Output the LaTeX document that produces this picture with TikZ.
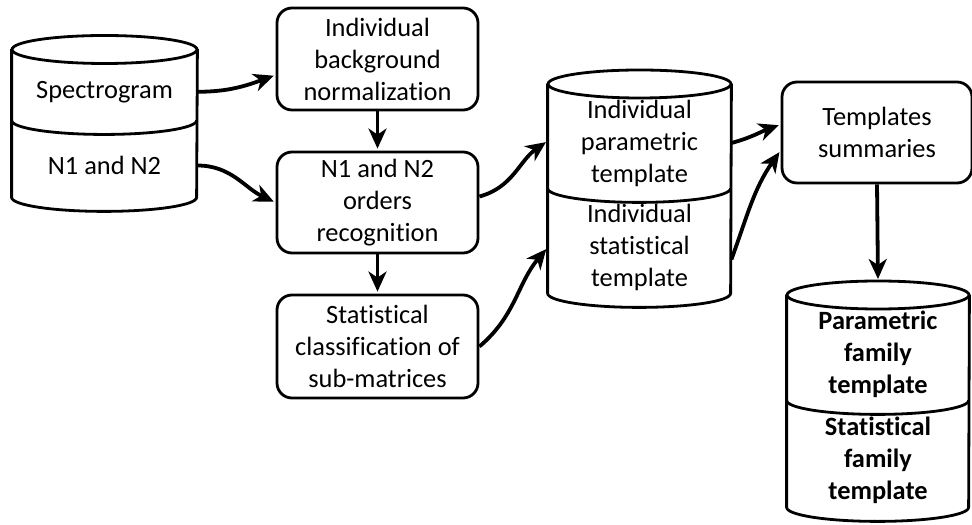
\documentclass[tikz,border=0pt]{standalone}
\usepackage{fontspec}
\setmainfont{Carlito}[Ligatures=NoCommon]
\usetikzlibrary{arrows.meta,calc}

\begin{document}
\begin{tikzpicture}[x=1pt,y=1pt,
  box/.style={draw, line width=1.4pt, rounded corners=7.5pt, minimum width=100.5pt, align=center, inner sep=0pt, font=\fontsize{13.2}{16}\selectfont},
  sect/.style={inner sep=0pt, align=center, font=\fontsize{13.2}{16}\selectfont},
  db/.style={line width=1.4pt},
  flow/.style={line width=1.9pt, -{Stealth[length=10pt,width=9pt,inset=3pt]}, shorten >=1pt}]
\useasboundingbox (0,0) rectangle (486,262);

% processing steps
\node[box, minimum height=51pt] (norm) at (188.75,232.5) {Individual\\background\\normalization};
\node[box, minimum height=50.5pt] (recog) at (188.75,160.75) {N1 and N2\\orders\\recognition};
\node[box, minimum height=51.5pt] (classif) at (188.75,88.75) {Statistical\\classification of\\sub-matrices};
\node[box, minimum width=95pt, minimum height=50.5pt] (summ) at (438.5,195.75) {Templates\\summaries};

% input database
\node[sect, minimum width=92.5pt, minimum height=28.25pt] (spec) at (52.25,216.1) {Spectrogram};
\node[sect, minimum width=92.5pt, minimum height=31.5pt] (orders) at (52.25,179.25) {N1 and N2};
\draw[db] (52.25,237.25) ellipse [x radius=46.25pt, y radius=7pt];
\draw[db] ($(spec.north west)+(0,7)$) -- (orders.south west) arc[start angle=180, end angle=360, x radius=46.25pt, y radius=7pt] -- ($(spec.north east)+(0,7)$);
\draw[db] (spec.south west) arc[start angle=180, end angle=360, x radius=46.25pt, y radius=7pt];

% individual templates
\node[sect, minimum width=91.5pt, minimum height=45pt] (param) at (319.75,190.5) {Individual\\parametric\\template};
\node[sect, minimum width=91.5pt, minimum height=45.5pt] (stat) at (319.75,138.25) {Individual\\statistical\\template};
\draw[db] (319.75,220) ellipse [x radius=45.75pt, y radius=7pt];
\draw[db] ($(param.north west)+(0,7)$) -- (stat.south west) arc[start angle=180, end angle=360, x radius=45.75pt, y radius=7pt] -- ($(param.north east)+(0,7)$);
\draw[db] (param.south west) arc[start angle=180, end angle=360, x radius=45.75pt, y radius=7pt];

% family templates
\node[sect, minimum width=91pt, minimum height=45.5pt, font=\fontsize{13.2}{16}\selectfont\bfseries] (pfam) at (439,84.75) {Parametric\\family\\template};
\node[sect, minimum width=91pt, minimum height=46.5pt, font=\fontsize{13.2}{16}\selectfont\bfseries] (sfam) at (439,31.75) {Statistical\\family\\template};
\draw[db] (439,114.5) ellipse [x radius=45.5pt, y radius=7pt];
\draw[db] ($(pfam.north west)+(0,7)$) -- (sfam.south west) arc[start angle=180, end angle=360, x radius=45.5pt, y radius=7pt] -- ($(pfam.north east)+(0,7)$);
\draw[db] (pfam.south west) arc[start angle=180, end angle=360, x radius=45.5pt, y radius=7pt];
\coordinate (pfamtop) at (439,121.5);

% connectors
\draw[flow] (spec.east) to[out=0,in=200] ($(norm.west)+(0,-8)$);
\draw[flow] (orders.east) to[out=0,in=155] (recog.west);
\draw[flow] (norm) -- (recog);
\draw[flow] (recog) -- (classif);
\draw[flow] ($(recog.east)+(0,3)$) to[out=15,in=215] ($(param.west)+(0,1)$);
\draw[flow] (classif.east) to[out=40,in=230] (stat.west);
\draw[flow] (param.east) to[out=15,in=200] ($(summ.west)+(0,4)$);
\draw[flow] ($(stat.east)+(0,-6)$) to[out=70,in=235] ($(summ.west)+(0,-9)$);
\draw[flow] (summ.south) -- (pfamtop);
\end{tikzpicture}
\end{document}
